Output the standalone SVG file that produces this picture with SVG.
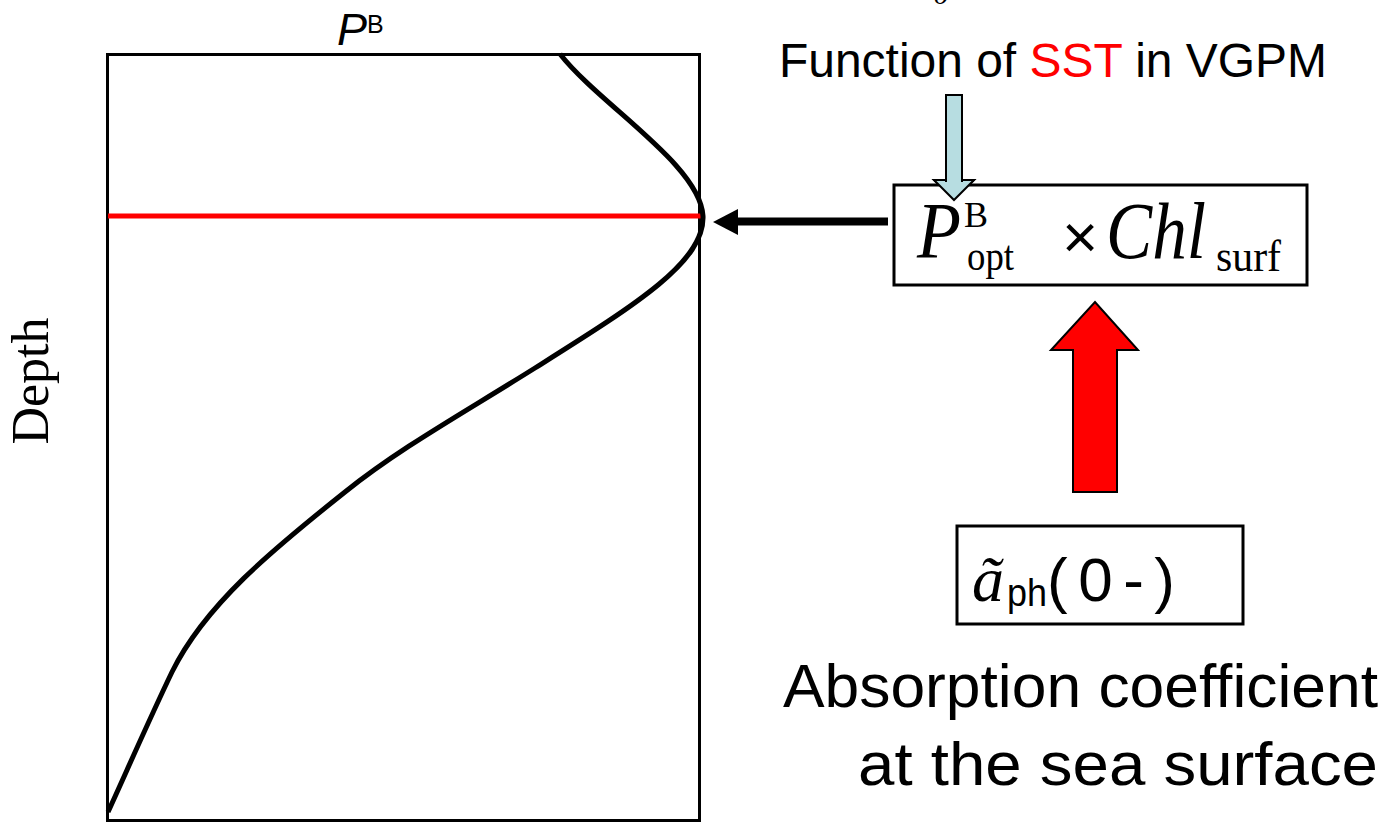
<svg xmlns="http://www.w3.org/2000/svg" width="1399" height="822" viewBox="0 0 1399 822">
<style>
.sans{font-family:"Liberation Sans",Arial,sans-serif}
.serif{font-family:"Liberation Serif","Times New Roman",serif}
.box{fill:#fff;stroke:#000;stroke-width:3}
</style>
<rect width="1399" height="822" fill="#fff"/>
<text class="serif" x="934" y="4" font-size="28" font-style="italic">o</text>

<g id="plot">
<rect x="107.5" y="54.5" width="592" height="766" fill="none" stroke="#000" stroke-width="3"/>
<line x1="108" y1="216" x2="701" y2="216" stroke="#ff0000" stroke-width="5"/>
<path d="M560,54 C600,105 700,165 703,216 C705,262 635,305 535,368 C460,415 400,448 345,492 C272,550 205,605 172,672 C148,722 125,775 108,812" fill="none" stroke="#000" stroke-width="5"/>
<text class="sans" x="337" y="45" font-size="45" font-style="italic">P</text>
<text class="sans" x="367" y="33" font-size="25">B</text>
<text class="serif" transform="translate(48,381) rotate(-90)" text-anchor="middle" font-size="52">Depth</text>
</g>

<g id="connectors">
<line x1="888" y1="221.5" x2="735" y2="221.5" stroke="#000" stroke-width="8"/>
<path d="M713,222 L738,209 L738,235 z" fill="#000"/>
<path d="M946,95 L962,95 L962,180 L974,180 L954,200 L934,180 L946,180 z" fill="#b7dde1" stroke="#000" stroke-width="2"/>
<path d="M1073,492 L1117,492 L1117,350 L1138,350 L1095,302 L1051,350 L1073,350 z" fill="#ff0000" stroke="#000" stroke-width="2"/>
</g>

<g id="label-function">
<text class="sans" x="779" y="77" font-size="48" textLength="548" lengthAdjust="spacingAndGlyphs">Function of <tspan fill="#ff0000">SST</tspan> in VGPM</text>
</g>

<g id="box-pbopt">
<rect class="box" x="894" y="185" width="413" height="100"/>
<path d="M934,180 L954,200 L974,180 z" fill="#b7dde1"/>
<path d="M946,182 L946,180 L934,180 L954,200 L974,180 L962,180 L962,182" fill="none" stroke="#000" stroke-width="2"/>
<text class="serif" x="917" y="258" font-size="80" font-style="italic" textLength="44" lengthAdjust="spacingAndGlyphs">P</text>
<text class="serif" x="964" y="227" font-size="36">B</text>
<text class="serif" x="967" y="270" font-size="42" textLength="47" lengthAdjust="spacingAndGlyphs">opt</text>
<text class="sans" x="1062" y="258" font-size="62">×</text>
<text class="serif" x="1106" y="258" font-size="80" font-style="italic" textLength="100" lengthAdjust="spacingAndGlyphs">Chl</text>
<text class="serif" x="1216" y="271" font-size="44" textLength="65" lengthAdjust="spacingAndGlyphs">surf</text>
</g>

<g id="box-aph">
<rect class="box" x="957" y="526" width="286" height="98"/>
<text class="serif" x="972" y="601" font-size="64" font-style="italic">ã</text>
<text class="sans" x="1007" y="606" font-size="38" textLength="40" lengthAdjust="spacingAndGlyphs">ph</text>
<text class="sans" x="1047" y="601" font-size="62" textLength="128" lengthAdjust="spacing">(0-)</text>
</g>

<g id="caption">
<text class="sans" x="1378" y="707" font-size="61" text-anchor="end" textLength="595" lengthAdjust="spacingAndGlyphs">Absorption coefficient</text>
<text class="sans" x="1378" y="785" font-size="61" text-anchor="end" textLength="520" lengthAdjust="spacingAndGlyphs">at the sea surface</text>
</g>
</svg>
